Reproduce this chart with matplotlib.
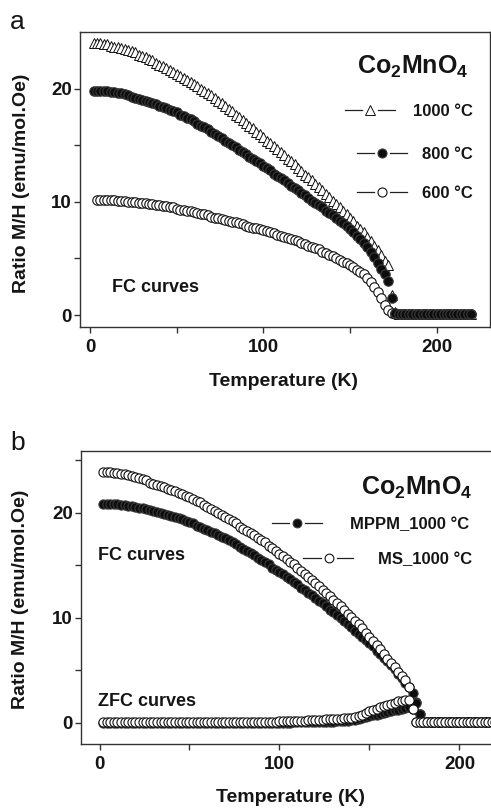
import matplotlib
matplotlib.use("Agg")
import matplotlib.pyplot as plt
import numpy as np

plt.rcParams['font.family'] = ['Liberation Sans', 'DejaVu Sans']
plt.rcParams['mathtext.fontset'] = 'custom'
plt.rcParams['mathtext.bf'] = 'Liberation Sans:bold'
plt.rcParams['mathtext.rm'] = 'Liberation Sans'

# ---------------- data: panel a (FC curves) ----------------
T_a = list(range(2, 221, 2))
T_a600 = list(range(4, 221, 2))

mh_1000 = [24.0, 24.0, 24.0, 23.9, 23.9, 23.8, 23.7, 23.7, 23.6, 23.5,
           23.4, 23.3, 23.2, 23.0, 22.9, 22.8, 22.6, 22.5, 22.3, 22.1,
           22.0, 21.8, 21.6, 21.5, 21.3, 21.1, 20.9, 20.8, 20.6, 20.4,
           20.2, 20.0, 19.8, 19.6, 19.4, 19.2, 18.9, 18.7, 18.5, 18.2,
           18.0, 17.7, 17.5, 17.2, 17.0, 16.7, 16.5, 16.2, 16.0, 15.7,
           15.4, 15.2, 14.9, 14.7, 14.4, 14.1, 13.8, 13.6, 13.3, 13.0,
           12.7, 12.4, 12.2, 11.9, 11.6, 11.3, 11.0, 10.7, 10.4, 10.1,
           9.8, 9.5, 9.2, 8.9, 8.6, 8.3, 7.9, 7.6, 7.3, 6.9,
           6.5, 6.1, 5.7, 5.3, 4.8, 4.4, 1.8, 0.3,
           0.1, 0.1, 0.1, 0.1, 0.1, 0.1, 0.1, 0.1, 0.1, 0.1, 0.1,
           0.1, 0.1, 0.1, 0.1, 0.1, 0.1, 0.1, 0.1, 0.1, 0.1, 0.1]

mh_800 = [19.8, 19.8, 19.8, 19.8, 19.8, 19.7, 19.7, 19.6, 19.6, 19.5,
          19.4, 19.3, 19.2, 19.1, 19.0, 18.9, 18.8, 18.7, 18.6, 18.5,
          18.4, 18.3, 18.1, 18.0, 17.9, 17.7, 17.6, 17.4, 17.3, 17.1,
          16.9, 16.7, 16.6, 16.4, 16.2, 16.0, 15.8, 15.6, 15.4, 15.2,
          15.0, 14.8, 14.6, 14.4, 14.2, 14.0, 13.8, 13.6, 13.4, 13.2,
          13.0, 12.8, 12.5, 12.3, 12.1, 11.9, 11.7, 11.4, 11.2, 11.0,
          10.8, 10.6, 10.3, 10.1, 9.9, 9.7, 9.5, 9.2, 9.0, 8.8,
          8.6, 8.3, 8.1, 7.9, 7.6, 7.3, 7.0, 6.7, 6.4, 6.0,
          5.6, 5.1, 4.6, 4.1, 3.6, 3.0, 1.5, 0.2,
          0.1, 0.1, 0.1, 0.1, 0.1, 0.1, 0.1, 0.1, 0.1, 0.1, 0.1,
          0.1, 0.1, 0.1, 0.1, 0.1, 0.1, 0.1, 0.1, 0.1, 0.1, 0.1]

mh_600 = [10.2, 10.2, 10.2, 10.2, 10.2, 10.2, 10.1, 10.1, 10.1,
          10.0, 10.0, 10.0, 9.9, 9.9, 9.9, 9.8, 9.8, 9.7, 9.7,
          9.6, 9.6, 9.5, 9.5, 9.4, 9.3, 9.3, 9.2, 9.2, 9.1,
          9.0, 8.9, 8.9, 8.8, 8.7, 8.6, 8.6, 8.5, 8.4, 8.3,
          8.2, 8.2, 8.1, 8.0, 7.9, 7.8, 7.7, 7.7, 7.6, 7.5,
          7.4, 7.3, 7.2, 7.1, 7.0, 6.9, 6.8, 6.7, 6.6, 6.5,
          6.4, 6.3, 6.1, 6.0, 5.9, 5.8, 5.6, 5.5, 5.3, 5.2,
          5.0, 4.9, 4.7, 4.6, 4.4, 4.2, 4.0, 3.8, 3.6, 3.3,
          2.9, 2.5, 2.0, 1.5, 0.9, 0.4, 0.15,
          0.1, 0.1, 0.1, 0.1, 0.1, 0.1, 0.1, 0.1, 0.1, 0.1, 0.1, 0.1,
          0.1, 0.1, 0.1, 0.1, 0.1, 0.1, 0.1, 0.1, 0.1, 0.1, 0.1]

# ---------------- data: panel b (FC and ZFC) ----------------
T_b = list(range(2, 221, 2))

ms_fc = [23.9, 23.9, 23.9, 23.8, 23.8, 23.7, 23.7, 23.6, 23.5, 23.4,
         23.3, 23.2, 23.1, 22.9, 22.8, 22.7, 22.6, 22.5, 22.3, 22.2,
         22.1, 21.9, 21.8, 21.6, 21.5, 21.3, 21.1, 21.0, 20.8, 20.6,
         20.4, 20.2, 20.0, 19.8, 19.6, 19.4, 19.2, 19.0, 18.7, 18.5,
         18.3, 18.1, 17.9, 17.6, 17.4, 17.2, 16.9, 16.7, 16.4, 16.1,
         15.9, 15.6, 15.3, 15.1, 14.8, 14.5, 14.2, 13.9, 13.6, 13.3,
         13.0, 12.7, 12.4, 12.1, 11.7, 11.4, 11.1, 10.8, 10.4, 10.1,
         9.7, 9.4, 9.0, 8.6, 8.2, 7.8, 7.4, 7.0, 6.6, 6.1,
         5.7, 5.3, 4.9, 4.5, 4.1, 3.4, 1.3,
         0.1, 0.1, 0.1, 0.1, 0.1, 0.1, 0.1, 0.1, 0.1, 0.1, 0.1, 0.1,
         0.1, 0.1, 0.1, 0.1, 0.1, 0.1, 0.1, 0.1, 0.1, 0.1, 0.1]

mppm_fc = [20.9, 20.9, 20.9, 20.9, 20.9, 20.8, 20.8, 20.7, 20.7, 20.6,
           20.5, 20.5, 20.4, 20.3, 20.2, 20.1, 20.0, 19.9, 19.8, 19.7,
           19.6, 19.5, 19.4, 19.2, 19.1, 19.0, 18.8, 18.7, 18.5, 18.4,
           18.2, 18.1, 17.9, 17.7, 17.6, 17.4, 17.2, 17.0, 16.8, 16.6,
           16.4, 16.2, 16.0, 15.7, 15.5, 15.3, 15.1, 14.8, 14.6, 14.4,
           14.2, 13.9, 13.7, 13.4, 13.2, 12.9, 12.7, 12.4, 12.2, 11.9,
           11.6, 11.4, 11.1, 10.8, 10.6, 10.3, 10.0, 9.7, 9.4, 9.1,
           8.8, 8.5, 8.2, 7.9, 7.6, 7.3, 6.9, 6.6, 6.2, 5.9,
           5.5, 5.1, 4.7, 4.3, 3.8, 3.4, 2.9, 2.0, 0.9,
           0.1, 0.1, 0.1, 0.1, 0.1, 0.1, 0.1, 0.1, 0.1, 0.1, 0.1,
           0.1, 0.1, 0.1, 0.1, 0.1, 0.1, 0.1, 0.1, 0.1, 0.1]

ms_zfc = [0.1, 0.1, 0.1, 0.1, 0.1, 0.1, 0.1, 0.1, 0.1, 0.1,
          0.1, 0.1, 0.1, 0.1, 0.1, 0.1, 0.1, 0.1, 0.1, 0.1,
          0.1, 0.1, 0.1, 0.1, 0.1, 0.1, 0.1, 0.1, 0.1, 0.1,
          0.1, 0.1, 0.1, 0.1, 0.1, 0.1, 0.1, 0.1, 0.1, 0.1,
          0.1, 0.1, 0.1, 0.1, 0.1,
          0.1, 0.12, 0.12, 0.14, 0.15, 0.16, 0.17, 0.18, 0.19, 0.2,
          0.21, 0.23, 0.25, 0.27, 0.29, 0.31, 0.33, 0.35, 0.37, 0.38,
          0.39, 0.41, 0.43, 0.46, 0.5, 0.6, 0.7, 0.8, 0.95, 1.1,
          1.2, 1.35, 1.5, 1.6, 1.75, 1.85, 1.95, 2.05, 2.1, 2.2,
          2.2, 1.3,
          0.1, 0.1, 0.1, 0.1, 0.1, 0.1, 0.1, 0.1, 0.1, 0.1, 0.1, 0.1,
          0.1, 0.1, 0.1, 0.1, 0.1, 0.1, 0.1, 0.1, 0.1, 0.1, 0.1]

mppm_zfc = [0.0, 0.0, 0.0, 0.0, 0.0, 0.0, 0.0, 0.0, 0.0, 0.0,
            0.0, 0.0, 0.0, 0.0, 0.0, 0.0, 0.0, 0.0, 0.0, 0.0,
            0.0, 0.0, 0.0, 0.0, 0.0, 0.0, 0.0, 0.0, 0.0, 0.0,
            0.0, 0.0, 0.0, 0.0, 0.0, 0.0, 0.0, 0.0, 0.0, 0.0,
            0.0, 0.0, 0.0, 0.0, 0.0, 0.0, 0.0, 0.0, 0.0, 0.0,
            0.02, 0.03, 0.04, 0.05, 0.05, 0.06, 0.07, 0.08, 0.09, 0.1,
            0.1, 0.11, 0.12, 0.13, 0.14, 0.16, 0.18, 0.2, 0.23, 0.27,
            0.32, 0.38, 0.45, 0.53, 0.62, 0.72, 0.8, 0.88, 0.96, 1.04,
            1.12, 1.2, 1.28, 1.36, 1.45, 1.55, 1.7, 1.9, 0.9,
            0.05, 0.05, 0.05, 0.05, 0.05, 0.05, 0.05, 0.05, 0.05, 0.05, 0.05,
            0.05, 0.05, 0.05, 0.05, 0.05, 0.05, 0.05, 0.05, 0.05, 0.05]

legend_a = ['1000 °C', '800 °C', '600 °C']
legend_b = ['MPPM_1000 °C', 'MS_1000 °C']

# ---------------- figure ----------------
W, H = 491, 808
fig = plt.figure(figsize=(W / 100, H / 100), dpi=100)
TXT = '#151515'
SP = '#333333'

box_a = (80, 32, 490, 327)   # left, top, right, bottom in px
box_b = (81, 451, 521, 744)


def make_ax(box):
    L, T, R, B = box
    return fig.add_axes([L / W, 1 - B / H, (R - L) / W, (B - T) / H])


def to_ax(box, px, py):
    L, T, R, B = box
    return (px - L) / (R - L), (B - py) / (B - T)


def style(ax):
    for s in ax.spines.values():
        s.set_color(SP)
        s.set_linewidth(1.0)
    ax.tick_params(which='both', direction='out', color=SP, width=1.0,
                   top=False, right=False)
    ax.tick_params(which='major', length=4.5, labelsize=13.5, labelcolor=TXT)
    ax.tick_params(which='minor', length=4)
    ax.tick_params(axis='x', pad=4)
    ax.tick_params(axis='y', pad=1.5)
    for lab in ax.get_xticklabels() + ax.get_yticklabels():
        lab.set_fontweight('bold')


def legend_entry(ax, box, x0, x1, xm, y, gap, **mk):
    a0 = to_ax(box, x0, y)
    a1 = to_ax(box, xm - gap, y)
    a2 = to_ax(box, xm + gap, y)
    a3 = to_ax(box, x1, y)
    am = to_ax(box, xm, y)
    ax.plot([a0[0], a1[0]], [a0[1], a1[1]], color='#222', lw=0.9,
            transform=ax.transAxes, clip_on=False)
    ax.plot([a2[0], a3[0]], [a2[1], a3[1]], color='#222', lw=0.9,
            transform=ax.transAxes, clip_on=False)
    ax.plot([am[0]], [am[1]], transform=ax.transAxes, clip_on=False,
            linestyle='none', **mk)


def label_text(ax, box, px, py, s, **kw):
    x, y = to_ax(box, px, py)
    ax.text(x, y, s, transform=ax.transAxes, color=TXT, **kw)


open_c = dict(marker='o', mfc='white', mec='#111', mew=0.8)
fill_c = dict(marker='o', mfc='#0d0d0d', mec='#3a3a3a', mew=0.8)
tri = dict(marker='^', mfc='white', mec='#111', mew=0.7)

# ---------------- panel a ----------------
ax = make_ax(box_a)
ax.plot(T_a600, mh_600, linestyle='none', ms=6.8, **open_c)
ax.plot(T_a, mh_1000, linestyle='none', ms=7.5, **tri)
ax.plot(T_a, mh_800, linestyle='none', ms=6.8, **fill_c)
ax.set_xlim(-5.8, 230.8)
ax.set_ylim(-1.06, 25.0)
ax.set_xticks([0, 100, 200])
ax.set_xticks([50, 150], minor=True)
ax.set_yticks([0, 10, 20])
ax.set_yticks([5, 15], minor=True)
style(ax)

label_text(ax, box_a, 468, 73.5, r'$\mathbf{Co_2MnO_4}$', fontsize=18,
           ha='right', va='baseline')
legend_entry(ax, box_a, 345, 395, 370, 110, 8, ms=7.0, **tri)
legend_entry(ax, box_a, 357, 407, 382, 152.7, 8, ms=6.5, **fill_c)
legend_entry(ax, box_a, 357, 407, 382, 191.7, 8, ms=6.5, **open_c)
for lbl, yy in zip(legend_a, [110, 152.7, 191.7]):
    label_text(ax, box_a, 473, yy + 6, lbl, fontsize=12, fontweight='bold',
               ha='right', va='baseline')
label_text(ax, box_a, 112, 291.5, 'FC curves', fontsize=13,
           fontweight='bold', ha='left', va='baseline')

fig.text(21.5 / W, 1 - 183.5 / H, 'Ratio M/H (emu/mol.Oe)', rotation=90,
         ha='center', va='center', fontsize=14, fontweight='bold', color=TXT)
fig.text(283.3 / W, 1 - 386.5 / H, 'Temperature (K)', ha='center',
         va='baseline', fontsize=14, fontweight='bold', color=TXT)
fig.text(10 / W, 1 - 29 / H, 'a', ha='left', va='baseline', fontsize=19,
         color=TXT)

# ---------------- panel b ----------------
bx = make_ax(box_b)
bx.plot(T_b, mppm_fc, linestyle='none', ms=6.6, **fill_c)
bx.plot(T_b, mppm_zfc, linestyle='none', ms=6.6, **fill_c)
bx.plot(T_b, ms_fc, linestyle='none', ms=6.6, **open_c)
bx.plot(T_b, ms_zfc, linestyle='none', ms=6.6, **open_c)
bx.set_xlim(-10.28, 234.2)
bx.set_ylim(-2.0, 25.9)
bx.set_xticks([0, 100, 200])
bx.set_xticks([50, 150], minor=True)
bx.set_yticks([0, 10, 20])
bx.set_yticks([5, 15, 25], minor=True)
style(bx)

label_text(bx, box_b, 472, 494.5, r'$\mathbf{Co_2MnO_4}$', fontsize=18,
           ha='right', va='baseline')
legend_entry(bx, box_b, 272, 322, 297, 523, 8, ms=6.3, **fill_c)
legend_entry(bx, box_b, 303, 353, 329, 558, 8, ms=6.3, **open_c)
label_text(bx, box_b, 469, 529, legend_b[0], fontsize=12, fontweight='bold',
           ha='right', va='baseline')
label_text(bx, box_b, 472, 564, legend_b[1], fontsize=12, fontweight='bold',
           ha='right', va='baseline')
label_text(bx, box_b, 98, 560, 'FC curves', fontsize=13,
           fontweight='bold', ha='left', va='baseline')
label_text(bx, box_b, 98, 706.5, 'ZFC curves', fontsize=13,
           fontweight='bold', ha='left', va='baseline')

fig.text(21 / W, 1 - 599.5 / H, 'Ratio M/H (emu/mol.Oe)', rotation=90,
         ha='center', va='center', fontsize=14, fontweight='bold', color=TXT)
fig.text(290 / W, 1 - 801.5 / H, 'Temperature (K)', ha='center',
         va='baseline', fontsize=14, fontweight='bold', color=TXT)
fig.text(10 / W, 1 - 450 / H, 'b', ha='left', va='baseline', fontsize=19,
         color=TXT)

fig.savefig('out.png', dpi=100)
